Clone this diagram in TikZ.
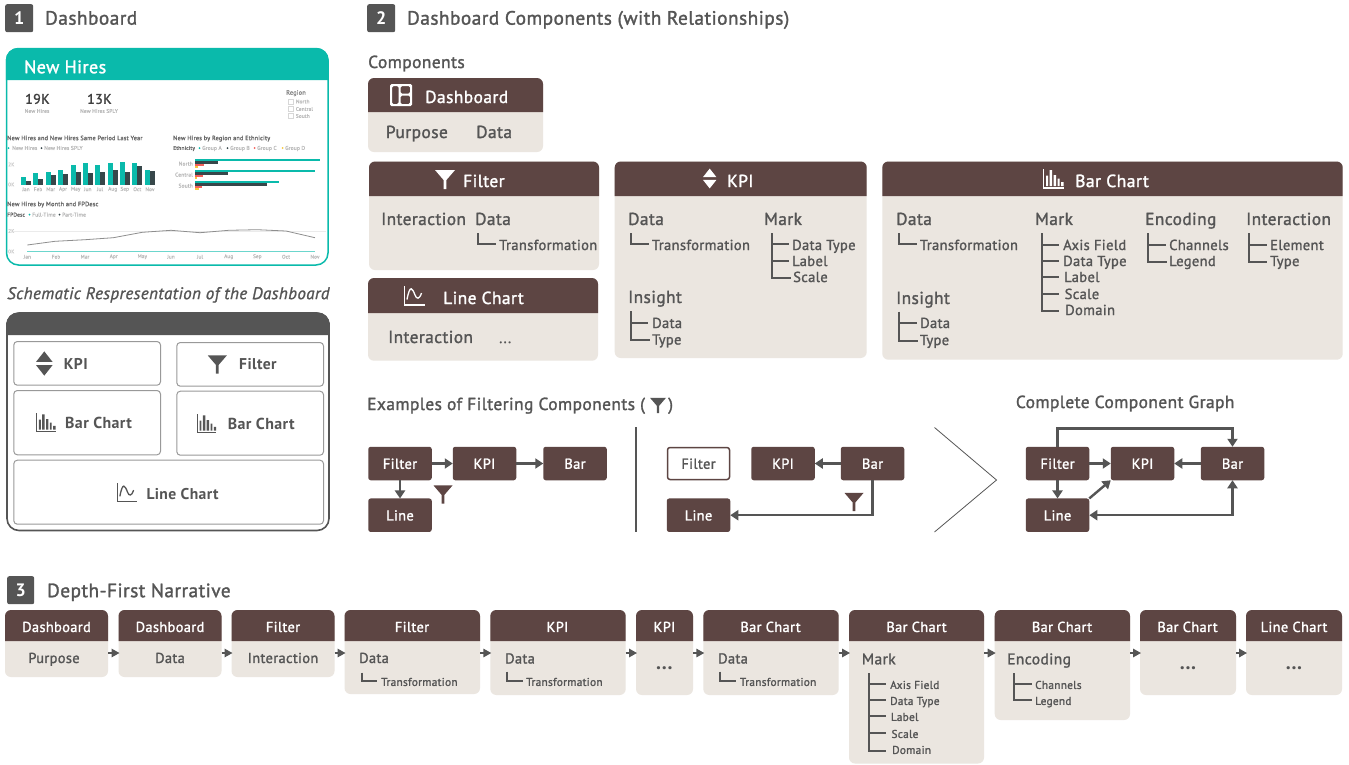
\documentclass[tikz,border=0pt]{standalone}
\usepackage{fontspec}
\setmainfont[LetterSpace=2.5,UprightFeatures={FakeBold=1.5},ItalicFeatures={FakeBold=1.2}]{PT Sans}
\usetikzlibrary{arrows.meta}
\definecolor{txtg}{HTML}{555555}
\definecolor{headb}{HTML}{5D4543}
\definecolor{bodyt}{HTML}{EBE6E0}
\definecolor{teal}{HTML}{0ABAAB}
\definecolor{darkb}{HTML}{37474A}
\definecolor{redb}{HTML}{F4605A}
\definecolor{yelb}{HTML}{F7C93E}
\definecolor{lightg}{HTML}{BDBDBD}
\definecolor{midg}{HTML}{8E8E8E}
\definecolor{boxg}{HTML}{999999}
\definecolor{smallt}{HTML}{6A6A6A}
\newcounter{tn}
\newcommand\tl[5][txtg]{\stepcounter{tn}\node[anchor=base west,inner sep=0,text=#1,font=\fontsize{#4}{#4}\selectfont] (t\thetn) at (#2,{#3+0.345*#4}) {#5};}
\newcommand\tc[5][txtg]{\stepcounter{tn}\node[anchor=base,inner sep=0,text=#1,font=\fontsize{#4}{#4}\selectfont] (t\thetn) at (#2,{#3+0.345*#4}) {#5};}
\newcommand\tr[5][txtg]{\stepcounter{tn}\node[anchor=base east,inner sep=0,text=#1,font=\fontsize{#4}{#4}\selectfont] (t\thetn) at (#2,{#3+0.345*#4}) {#5};}
% panel: name x0 y0 x1 ym y1
\newcommand\panel[6]{%
 \node[bodybox,minimum width={#4-#2},minimum height={#6-#3}] (#1) at (#2,#3) {};
 \fill[headb,rounded corners=6] (#2,#5) [sharp corners] -- (#2,{#3+6}) [rounded corners=6] -- (#2,#3) -- (#4,#3) [sharp corners] -- (#4,{#3+6}) -- (#4,#5) -- cycle;}
% icons: x y(center) scale colour
\newcommand\icfunnel[4]{\begin{scope}[shift={(#1,#2)},scale=#3]
 \fill[#4] (-10,-9) -- (10,-9) -- (1.4,1) -- (1.4,10) -- (-1.4,10) -- (-1.4,1) -- cycle;\end{scope}}
\newcommand\icupdown[4]{\begin{scope}[shift={(#1,#2)},scale=#3]
 \fill[#4] (0,-11) -- (7.5,-1.5) -- (-7.5,-1.5) -- cycle;
 \fill[#4] (0,11) -- (7.5,1.5) -- (-7.5,1.5) -- cycle;\end{scope}}
\newcommand\icbar[4]{\begin{scope}[shift={(#1,#2)},scale=#3]
 \draw[#4,line width=1.2] (-10,-9.5) -- (-10,9.5) -- (10,9.5);
 \fill[#4] (-7.5,7.5) rectangle (-5.5,-3) (-4,7.5) rectangle (-1.5,-8.5) (0,7.5) rectangle (2.5,-3.5) (4,7.5) rectangle (6,0) (7.5,7.5) rectangle (10,3.5);\end{scope}}
\newcommand\icline[4]{\begin{scope}[shift={(#1,#2)},scale=#3]
 \draw[#4,line width=1.2] (-10,-9.5) -- (-10,9.5) -- (10,9.5);
 \draw[#4,line width=1.3] (-7.5,4) .. controls (-4.5,-12) and (-2,-7) .. (0.5,-0.5) .. controls (2,4) and (5,4) .. (7,-2.5);\end{scope}}
\tikzset{
 bodybox/.style={fill=bodyt,rounded corners=6,anchor=north west,inner sep=0,outer sep=0},
 tree/.style={draw=txtg,line width=1.9},
 narr/.style={draw=txtg,line width=1.5,-{Triangle[length=8pt,width=8.5pt]},shorten >=-1pt},
 garrow/.style={draw=txtg,line width=2.4,-{Triangle[length=8pt,width=10pt]}},
 gboth/.style={draw=txtg,line width=2.4,{Triangle[length=8pt,width=10pt]}-{Triangle[length=8pt,width=10pt]}},
 gbox/.style={fill=headb,rounded corners=2.5,minimum width=63.5,minimum height=33.5,inner sep=0,outer sep=0,text=white,text height=10.5,text depth=0,font=\fontsize{14.4}{14.4}\selectfont},
 gboxw/.style={gbox,fill=white,draw=headb,line width=1.5,text=txtg,minimum width=62,minimum height=32},
 badge/.style={fill=txtg,rounded corners=2,anchor=north west,minimum width=28,minimum height=28,inner sep=0,text=white,font=\fontsize{18}{18}\selectfont\bfseries},
 sbox/.style={draw=boxg,line width=1,fill=white,rounded corners=3.5,anchor=north west,inner sep=0},
}
\begin{document}
\begin{tikzpicture}[x=1pt,y=-1pt]
\useasboundingbox (0,0) rectangle (1349,764);
\fill[white] (0,0) rectangle (1349,764);
% ---------- section headings
\node[badge] (b1) at (5,4) {1};
\tl{45}{18}{19.3}{Dashboard}
\node[badge] (b2) at (367,4) {2};
\tl{407}{18}{19.3}{Dashboard Components (with Relationships)}
\node[badge,minimum width=27] (b3) at (7,576) {3};
\tl{47}{590.5}{19.3}{Depth-First Narrative}
% ---------- dashboard screenshot
\draw[teal,line width=1.5,fill=white,rounded corners=12] (6.5,48.5) rectangle (328,265);
\fill[teal,rounded corners=12] (5.8,80) [sharp corners] -- (5.8,62) [rounded corners=12] -- (5.8,48) -- (328.7,48) [sharp corners] -- (328.7,62) -- (328.7,80) -- cycle;
\tl[white]{24}{67}{18}{New Hires}
\tl[black!75]{25}{99}{14}{19K}
\tc[lightg]{37}{111}{5.4}{New Hires}
\tl[black!75]{87}{99}{14}{13K}
\tc[lightg]{99}{111}{5.4}{New Hires SPLY}
\tl[midg]{286}{92.5}{6.4}{Region}
\foreach \yy in {101.5,109,116}{\draw[lightg!60,line width=.5] (288.2,\yy-2.7) rectangle (293.5,\yy+2.7);}
\tl[lightg]{295.7}{101.5}{5.3}{North}
\tl[lightg]{295.7}{109}{5.3}{Central}
\tl[lightg]{295.7}{116}{5.3}{South}
% left bars
\tl[smallt]{7}{138}{6.3}{New Hires and New Hires Same Period Last Year}
\fill[teal] (8.5,148) circle (1); \tl[lightg]{12}{148}{5.5}{New Hires}
\fill[darkb] (41.5,148) circle (1); \tl[lightg]{44}{148}{5.5}{New Hires SPLY}
\tl[lightg!70]{8}{164.5}{5.2}{2K}
\tl[lightg!70]{8}{184.5}{5.2}{0K}
\foreach \cx/\ta/\tb/\mm in {26/530/542/Jan,38/520/537/Feb,50.7/516/525/Mar,63/510/522/Apr,75.7/494/516/May,87.7/488/518/Jun,100/495/515/Jul,112.7/488/510/Aug,124.7/487/516/Sep,137.3/490/497/Oct,150/510/514/Nov}{
 \fill[teal] (\cx-5.2,184.5) rectangle (\cx,\ta/3);
 \fill[darkb] (\cx,184.5) rectangle (\cx+4.8,\tb/3);
 \node[inner sep=0,text=lightg,font=\fontsize{5.2}{5.5}\selectfont] (m\mm) at (\cx,189.3) {\mm};
}
% right bars
\tl[smallt]{173}{138}{6.3}{New Hires by Region and Ethnicity}
\tl[smallt]{173}{148}{5.5}{Ethnicity}
\fill[teal] (199.5,148) circle (1); \tl[lightg]{202}{148}{5.5}{Group A}
\fill[darkb] (227.5,148) circle (1); \tl[lightg]{230}{148}{5.5}{Group B}
\fill[redb] (254.7,148) circle (1); \tl[lightg]{257}{148}{5.5}{Group C}
\fill[yelb] (282.7,148) circle (1); \tl[lightg]{285}{148}{5.5}{Group D}
\tr[lightg]{193}{163.7}{5.5}{North}
\tr[lightg]{193}{174.7}{5.5}{Central}
\tr[lightg]{193}{185.7}{5.5}{South}
\foreach \yb/\xa/\xb/\xc/\xd in {158.7/320/217.7/204/197.5,170/315/227.7/203/197,181/279.3/266.7/202/199.3}{
 \fill[teal] (195.3,\yb) rectangle (\xa,\yb+2.4);
 \fill[darkb] (195.3,\yb+2.4) rectangle (\xb,\yb+4.8);
 \fill[redb] (195.3,\yb+4.8) rectangle (\xc,\yb+7.2);
 \fill[yelb] (195.3,\yb+7.2) rectangle (\xd,\yb+9.2);
}
% line chart
\tl[smallt]{7}{204}{6.3}{New Hires by Month and FPDesc}
\tl[smallt]{7}{214.7}{5.5}{FPDesc}
\fill[teal] (29.5,214.7) circle (1); \tl[lightg]{32}{214.7}{5.5}{Full-Time}
\fill[darkb] (59.5,214.7) circle (1); \tl[lightg]{62}{214.7}{5.5}{Part-Time}
\tl[lightg!70]{8}{231}{5.2}{2K}
\tl[lightg!70]{8}{251.5}{5.2}{0K}
\draw[black!8,line width=.4] (14,231) -- (326,231);
\draw[midg,line width=.8] (27.3,245) -- (55,241.3) -- (85,239.7) -- (113.3,237.7) -- (142.3,232.3) -- (171,230.3) -- (200,232.7) -- (228.7,230.3) -- (257.3,229.7) -- (286,231) -- (315,237.7);
\draw[teal!60,line width=.8] (27.3,251) -- (315,251);
\foreach \cx/\mm in {27.3/Jan,56/Feb,85/Mar,113.7/Apr,142.3/May,171/Jun,200/Jul,228.7/Aug,257.3/Sep,286/Oct,315/Nov}{
 \node[inner sep=0,text=lightg,font=\fontsize{5.2}{5.5}\selectfont] (n\mm) at (\cx,256.7) {\mm};
}
% ---------- schematic
\tl{7}{293.3}{16.9}{\itshape Schematic Respresentation of the Dashboard}
\draw[txtg,line width=1.6,fill=white,rounded corners=12] (7,313) rectangle (329,530.5);
\fill[txtg,rounded corners=12] (6.2,335) [sharp corners] -- (6.2,322) [rounded corners=12] -- (6.2,312.5) -- (329.8,312.5) [sharp corners] -- (329.8,322) -- (329.8,335) -- cycle;
\node[sbox,minimum width=146.7,minimum height=43.7] (sK) at (13.3,341) {};
\node[sbox,minimum width=146.7,minimum height=43.7] (sF) at (176.3,342) {};
\node[sbox,minimum width=146.7,minimum height=64.3] (sB1) at (13.3,390) {};
\node[sbox,minimum width=146.7,minimum height=64] (sB2) at (176.3,390.7) {};
\node[sbox,minimum width=309.7,minimum height=64] (sL) at (13.3,459.7) {};
\icupdown{44.3}{363.5}{1.1}{txtg}
\tl{63.7}{364.3}{15.6}{\bfseries KPI}
\icfunnel{217.3}{364}{.95}{txtg}
\tl{239}{364}{15.6}{\bfseries Filter}
\icbar{46}{422.5}{.95}{txtg}
\tl{65}{422.7}{15.9}{\bfseries Bar Chart}
\icbar{206.7}{423.5}{.95}{txtg}
\tl{227.7}{423.7}{15.9}{\bfseries Bar Chart}
\icline{127}{492.5}{.95}{txtg}
\tl{146.3}{493.7}{15.6}{\bfseries Line Chart}
% ---------- components
\tl{368}{62}{17.4}{Components}
\panel{pD}{368}{78}{543}{112}{152}
\fill[white,rounded corners=1.5,even odd rule] (390,84) rectangle (412,106) (392,86) rectangle (398.5,104) (400.5,86) rectangle (410,93.5) (400.5,95.5) rectangle (410,104);
\tl[white]{425}{97}{17.4}{Dashboard}
\tl{385.7}{132}{17.4}{Purpose}
\tl{476}{132}{17.4}{Data}
\panel{pF}{369}{161.5}{599}{196}{270}
\icfunnel{445}{179}{1}{white}
\tl[white]{463}{181}{17.4}{Filter}
\tl{381}{219}{17.3}{Interaction}
\tl{475}{219}{17.3}{Data}
\draw[tree] (477.7,233) |- (496,244);
\tl{499}{245}{14.5}{Transformation}
\panel{pL}{368}{278}{598}{313}{360.7}
\icline{414.5}{295.5}{1}{white}
\tl[white]{443}{298}{17.4}{Line Chart}
\tl{388}{337}{17.3}{Interaction}
\tl{499}{338}{14.5}{...}
\panel{pK}{614.7}{161.5}{866.7}{196}{358}
\icupdown{709.7}{178.5}{.9}{white}
\tl[white]{727}{181}{17.4}{KPI}
\tl{628}{219}{17.3}{Data}
\draw[tree] (630.7,233) |- (648.7,244);
\tl{651.7}{245}{14.5}{Transformation}
\tl{764}{219}{17.3}{Mark}
\draw[tree] (771.7,233) |- (791,278);
\draw[tree] (771.7,244) -- (789,244) (771.7,261) -- (789,261);
\tl{792}{245}{14.5}{Data Type}
\tl{792}{261}{14.5}{Label}
\tl{793}{277}{14.5}{Scale}
\tl{628}{297}{17.3}{Insight}
\draw[tree] (630.7,311) |- (650,340);
\draw[tree] (630.7,322.7) -- (648,322.7);
\tl{652}{323}{14.5}{Data}
\tl{652}{339.5}{14.5}{Type}
\panel{pB}{882.3}{161.5}{1342.7}{196}{359.7}
\icbar{1053.5}{178.5}{1}{white}
\tl[white]{1075}{181}{17.6}{Bar Chart}
\tl{896}{219}{17.3}{Data}
\draw[tree] (898.7,233) |- (917,244);
\tl{919.7}{245}{14.5}{Transformation}
\tl{896}{298}{17.3}{Insight}
\draw[tree] (899,311.7) |- (917.7,340.7);
\draw[tree] (899,323) -- (917,323);
\tl{920}{323}{14.5}{Data}
\tl{919.7}{340}{14.5}{Type}
\tl{1035}{219}{17.3}{Mark}
\draw[tree] (1042,233) |- (1059,310.7);
\foreach \yy in {244.7,261,277,294}{\draw[tree] (1042,\yy) -- (1059,\yy);}
\tl{1063}{245}{14.5}{Axis Field}
\tl{1063}{261}{14.5}{Data Type}
\tl{1064}{277}{14.5}{Label}
\tl{1064.5}{294}{14.5}{Scale}
\tl{1065}{310}{14.5}{Domain}
\tl{1145}{219}{17.3}{Encoding}
\draw[tree] (1148,233) |- (1167,262);
\draw[tree] (1148,245) -- (1166,245);
\tl{1169}{245}{14.5}{Channels}
\tl{1169}{261}{14.5}{Legend}
\tl{1246}{219}{17.3}{Interaction}
\draw[tree] (1249,233) |- (1267,262);
\draw[tree] (1249,245) -- (1267,245);
\tl{1270}{245}{14.5}{Element}
\tl{1270}{261}{14.5}{Type}
% ---------- filtering examples
\tl{367}{404}{17.4}{Examples of Filtering Components (}
\icfunnel{658}{405}{.8}{txtg}
\tl{668}{404}{17.4}{)}
\node[gbox] (fA) at (400,463.5) {Filter};
\node[gbox] (kA) at (484.5,463.5) {KPI};
\node[gbox] (bA) at (575,463.5) {Bar};
\node[gbox] (lA) at (400,515.2) {Line};
\draw[garrow] (fA.east) -- (kA.west);
\draw[garrow] (kA.east) -- (bA.west);
\draw[garrow] (fA.south) -- (lA.north);
\icfunnel{443}{494}{.95}{headb}
\coordinate (divT) at (636,427); \coordinate (divB) at (636,532);
\draw[txtg,line width=1.3] (divT) -- (divB);
\node[gboxw] (fB) at (698.5,463.5) {Filter};
\node[gbox] (kB) at (783,463.5) {KPI};
\node[gbox] (bB) at (872.5,463.5) {Bar};
\node[gbox] (lB) at (698.5,515.2) {Line};
\draw[garrow] (bB.west) -- (kB.east);
\draw[garrow] (bB.south) |- (lB.east);
\icfunnel{854}{501.5}{.95}{headb}
% ---------- complete graph
\coordinate (chA) at (934.5,427.5); \coordinate (chB) at (996.5,480); \coordinate (chC) at (934.5,532);
\draw[txtg,line width=.8] (chA) -- (chB) -- (chC);
\tl{1015.7}{402}{17.4}{Complete Component Graph}
\node[gbox] (fC) at (1057.5,463.5) {Filter};
\node[gbox] (kC) at (1142.5,463.5) {KPI};
\node[gbox] (bC) at (1232.5,463.5) {Bar};
\node[gbox] (lC) at (1057.5,515.2) {Line};
\coordinate (cTop) at (1145,428.5);
\draw[garrow] (fC.north) |- (cTop) -| (bC.north);
\draw[garrow] (fC.east) -- (kC.west);
\draw[garrow] (bC.west) -- (kC.east);
\draw[garrow] (fC.south) -- (lC.north);
\draw[garrow] (lC.north east) -- (kC.south west);
\draw[gboth] (lC.east) -| (bC.south);
% ---------- narrative
\coordinate (ay) at (0,653);
\panel{n1}{5}{610}{108}{641}{677}
\tc[white]{56.5}{627}{14.4}{Dashboard}
\tc{54}{658}{14.4}{Purpose}
\panel{n2}{118.5}{610}{221.5}{641}{677}
\tc[white]{170}{627}{14.4}{Dashboard}
\tc{170}{658}{14.4}{Data}
\panel{n3}{231.5}{610}{334.5}{641}{677}
\tc[white]{283}{627}{14.4}{Filter}
\tc{283}{658}{14.4}{Interaction}
\panel{n4}{344.5}{610}{480}{641}{694}
\tc[white]{412}{627}{14.4}{Filter}
\tl{359}{658}{14.4}{Data}
\draw[tree] (361.7,672.7) |- (376.7,681);
\tl{381}{682}{11.3}{Transformation}
\panel{n5}{490.3}{610}{625.7}{641}{695}
\tc[white]{557.5}{627}{14.4}{KPI}
\tl{505}{658.5}{14.4}{Data}
\draw[tree] (507,671.7) |- (522.7,681);
\tl{526}{682}{11.3}{Transformation}
\panel{n6}{636}{610}{693}{641}{695}
\tc[white]{664.5}{627}{14.4}{KPI}
\tc{664.3}{663}{20}{\bfseries ...}
\panel{n7}{703.3}{610}{838.7}{641}{695}
\tc[white]{770.5}{627}{14.4}{Bar Chart}
\tl{718}{658.5}{14.4}{Data}
\draw[tree] (720,671.7) |- (735.7,681);
\tl{739.7}{682}{11.3}{Transformation}
\panel{n8}{849}{610}{984}{641}{763.5}
\tc[white]{916.5}{627}{14.4}{Bar Chart}
\tl{861.7}{659}{15.5}{Mark}
\draw[tree] (869,673) |- (886,751);
\foreach \yy in {684,700,716,733}{\draw[tree] (869,\yy) -- (886,\yy);}
\tl{890}{685}{11.3}{Axis Field}
\tl{890}{701}{11.3}{Data Type}
\tl{890.7}{717}{11.3}{Label}
\tl{891.3}{734}{11.3}{Scale}
\tl{892}{750}{11.3}{Domain}
\panel{n9}{994.7}{610}{1130}{641}{720}
\tc[white]{1062}{627}{14.4}{Bar Chart}
\tl{1007}{659}{15.5}{Encoding}
\draw[tree] (1014.3,673) |- (1031.7,700);
\draw[tree] (1014.3,684) -- (1031.7,684);
\tl{1035}{685}{11.3}{Channels}
\tl{1035}{701}{11.3}{Legend}
\panel{n10}{1140}{610}{1236}{641}{695}
\tc[white]{1187.5}{627}{14.4}{Bar Chart}
\tc{1188}{663}{20}{\bfseries ...}
\panel{n11}{1246}{610}{1342}{641}{695}
\tc[white]{1294}{627}{14.4}{Line Chart}
\tc{1294}{663}{20}{\bfseries ...}
\draw[narr] (n1.east |- ay) -- (n2.west |- ay);
\draw[narr] (n2.east |- ay) -- (n3.west |- ay);
\draw[narr] (n3.east |- ay) -- (n4.west |- ay);
\draw[narr] (n4.east |- ay) -- (n5.west |- ay);
\draw[narr] (n5.east |- ay) -- (n6.west |- ay);
\draw[narr] (n6.east |- ay) -- (n7.west |- ay);
\draw[narr] (n7.east |- ay) -- (n8.west |- ay);
\draw[narr] (n8.east |- ay) -- (n9.west |- ay);
\draw[narr] (n9.east |- ay) -- (n10.west |- ay);
\draw[narr] (n10.east |- ay) -- (n11.west |- ay);
\end{tikzpicture}
\end{document}
